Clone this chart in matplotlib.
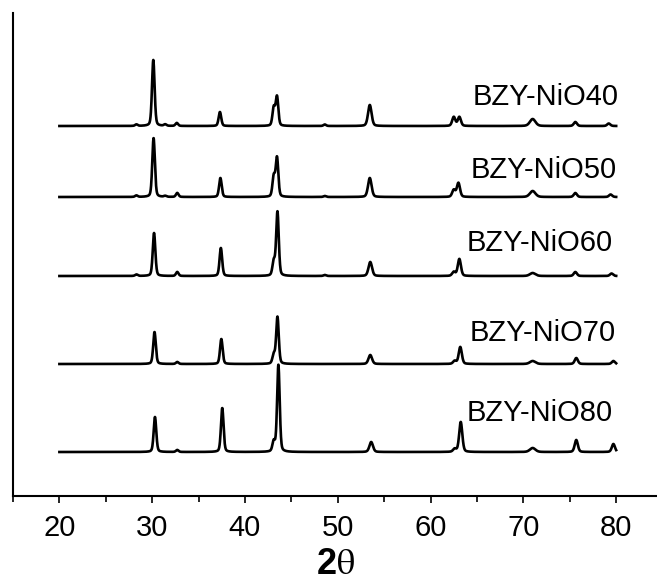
import numpy as np
import matplotlib.pyplot as plt

# XRD patterns of BZY-NiO composites, stacked
# peaks: position (2theta), height (a.u.)

labels = ["BZY-NiO40", "BZY-NiO50", "BZY-NiO60", "BZY-NiO70", "BZY-NiO80"]

pos40 = [28.3, 30.12, 31.4, 32.65, 37.3, 43.1, 43.45, 48.6, 53.45, 62.5, 63.1, 71.0, 75.6, 79.2]
hgt40 = [1.5, 66, 1.5, 3, 14, 18, 29, 1.5, 21, 9, 9, 7, 4, 2.5]

pos50 = [28.3, 30.15, 31.4, 32.7, 37.35, 43.1, 43.45, 48.6, 53.45, 62.5, 63.0, 71.0, 75.6, 79.4]
hgt50 = [1.5, 59, 1.0, 4, 19, 20, 39, 1.0, 19, 7, 14, 6, 4, 2.5]

pos60 = [28.3, 30.2, 32.7, 37.4, 43.1, 43.5, 48.6, 53.5, 62.5, 63.1, 71.0, 75.6, 79.5]
hgt60 = [1.5, 43, 4, 28, 14, 64, 1.0, 14, 4, 17, 3, 4, 2.5]

pos70 = [30.25, 32.7, 37.45, 43.1, 43.5, 53.5, 62.6, 63.2, 71.0, 75.7, 79.7]
hgt70 = [32, 2, 25, 9, 47, 9, 3, 17, 3, 6, 3]

pos80 = [30.3, 32.7, 37.55, 43.1, 43.6, 53.6, 62.6, 63.25, 71.0, 75.7, 79.7]
hgt80 = [35, 2, 44, 10, 87, 10, 3, 30, 4, 12, 8]

positions = [pos40, pos50, pos60, pos70, pos80]
heights = [hgt40, hgt50, hgt60, hgt70, hgt80]

# vertical offsets of the stacked traces
offsets = [370, 299, 220, 132, 44]
label_xy = [(80.3, 399), (80.1, 326), (79.6, 253), (80.0, 163), (79.6, 83)]


def fwhm_of(p):
    if p > 70 and p < 72:
        return 0.7
    if p > 53 and p < 54:
        return 0.45
    if p > 60:
        return 0.4
    return 0.33


def profile(x, pos, hgt):
    y = np.zeros_like(x)
    for p, h in zip(pos, hgt):
        w = fwhm_of(p)
        g = np.exp(-4 * np.log(2) * ((x - p) / w) ** 2)
        l = 1.0 / (1.0 + 4 * ((x - p) / w) ** 2)
        y += h * (0.7 * g + 0.3 * l)
    return y


if __name__ == "__main__":
    plt.close("all")
    plt.rcParams["font.family"] = ["Liberation Sans", "DejaVu Sans"]
    plt.rcParams["mathtext.fontset"] = "stix"

    fig = plt.figure(figsize=(6.57, 5.81), dpi=100)
    ax = fig.add_axes([13 / 657, 85 / 581, 644 / 657, 483 / 581])

    x = np.arange(20.0, 80.0001, 0.02)
    for lab, pos, hgt, off, (lx, ly) in zip(labels, positions, heights, offsets, label_xy):
        ax.plot(x, off + profile(x, pos, hgt), color="black", lw=1.9,
                solid_joinstyle="round")
        ax.text(lx, ly, lab, ha="right", va="center", fontsize=21)

    ax.set_xlim(15, 84.4)
    ax.set_ylim(0, 483)
    ax.set_xticks([20, 30, 40, 50, 60, 70, 80])
    ax.set_xticks(np.arange(15, 85, 5), minor=True)
    ax.set_yticks([])
    for s in ["top", "right"]:
        ax.spines[s].set_visible(False)
    ax.spines["left"].set_linewidth(1.5)
    ax.spines["bottom"].set_linewidth(1.5)
    ax.tick_params(axis="x", which="major", direction="out", length=5, width=1.2,
                   labelsize=21, pad=8)
    ax.tick_params(axis="x", which="minor", direction="out", length=4, width=1.2)

    fig.text(335 / 657, 1 - 565 / 581, r"2$\mathrm{\theta}$", ha="center", va="center",
             fontsize=26, fontweight="bold")

    fig.savefig("out.png", dpi=100)
